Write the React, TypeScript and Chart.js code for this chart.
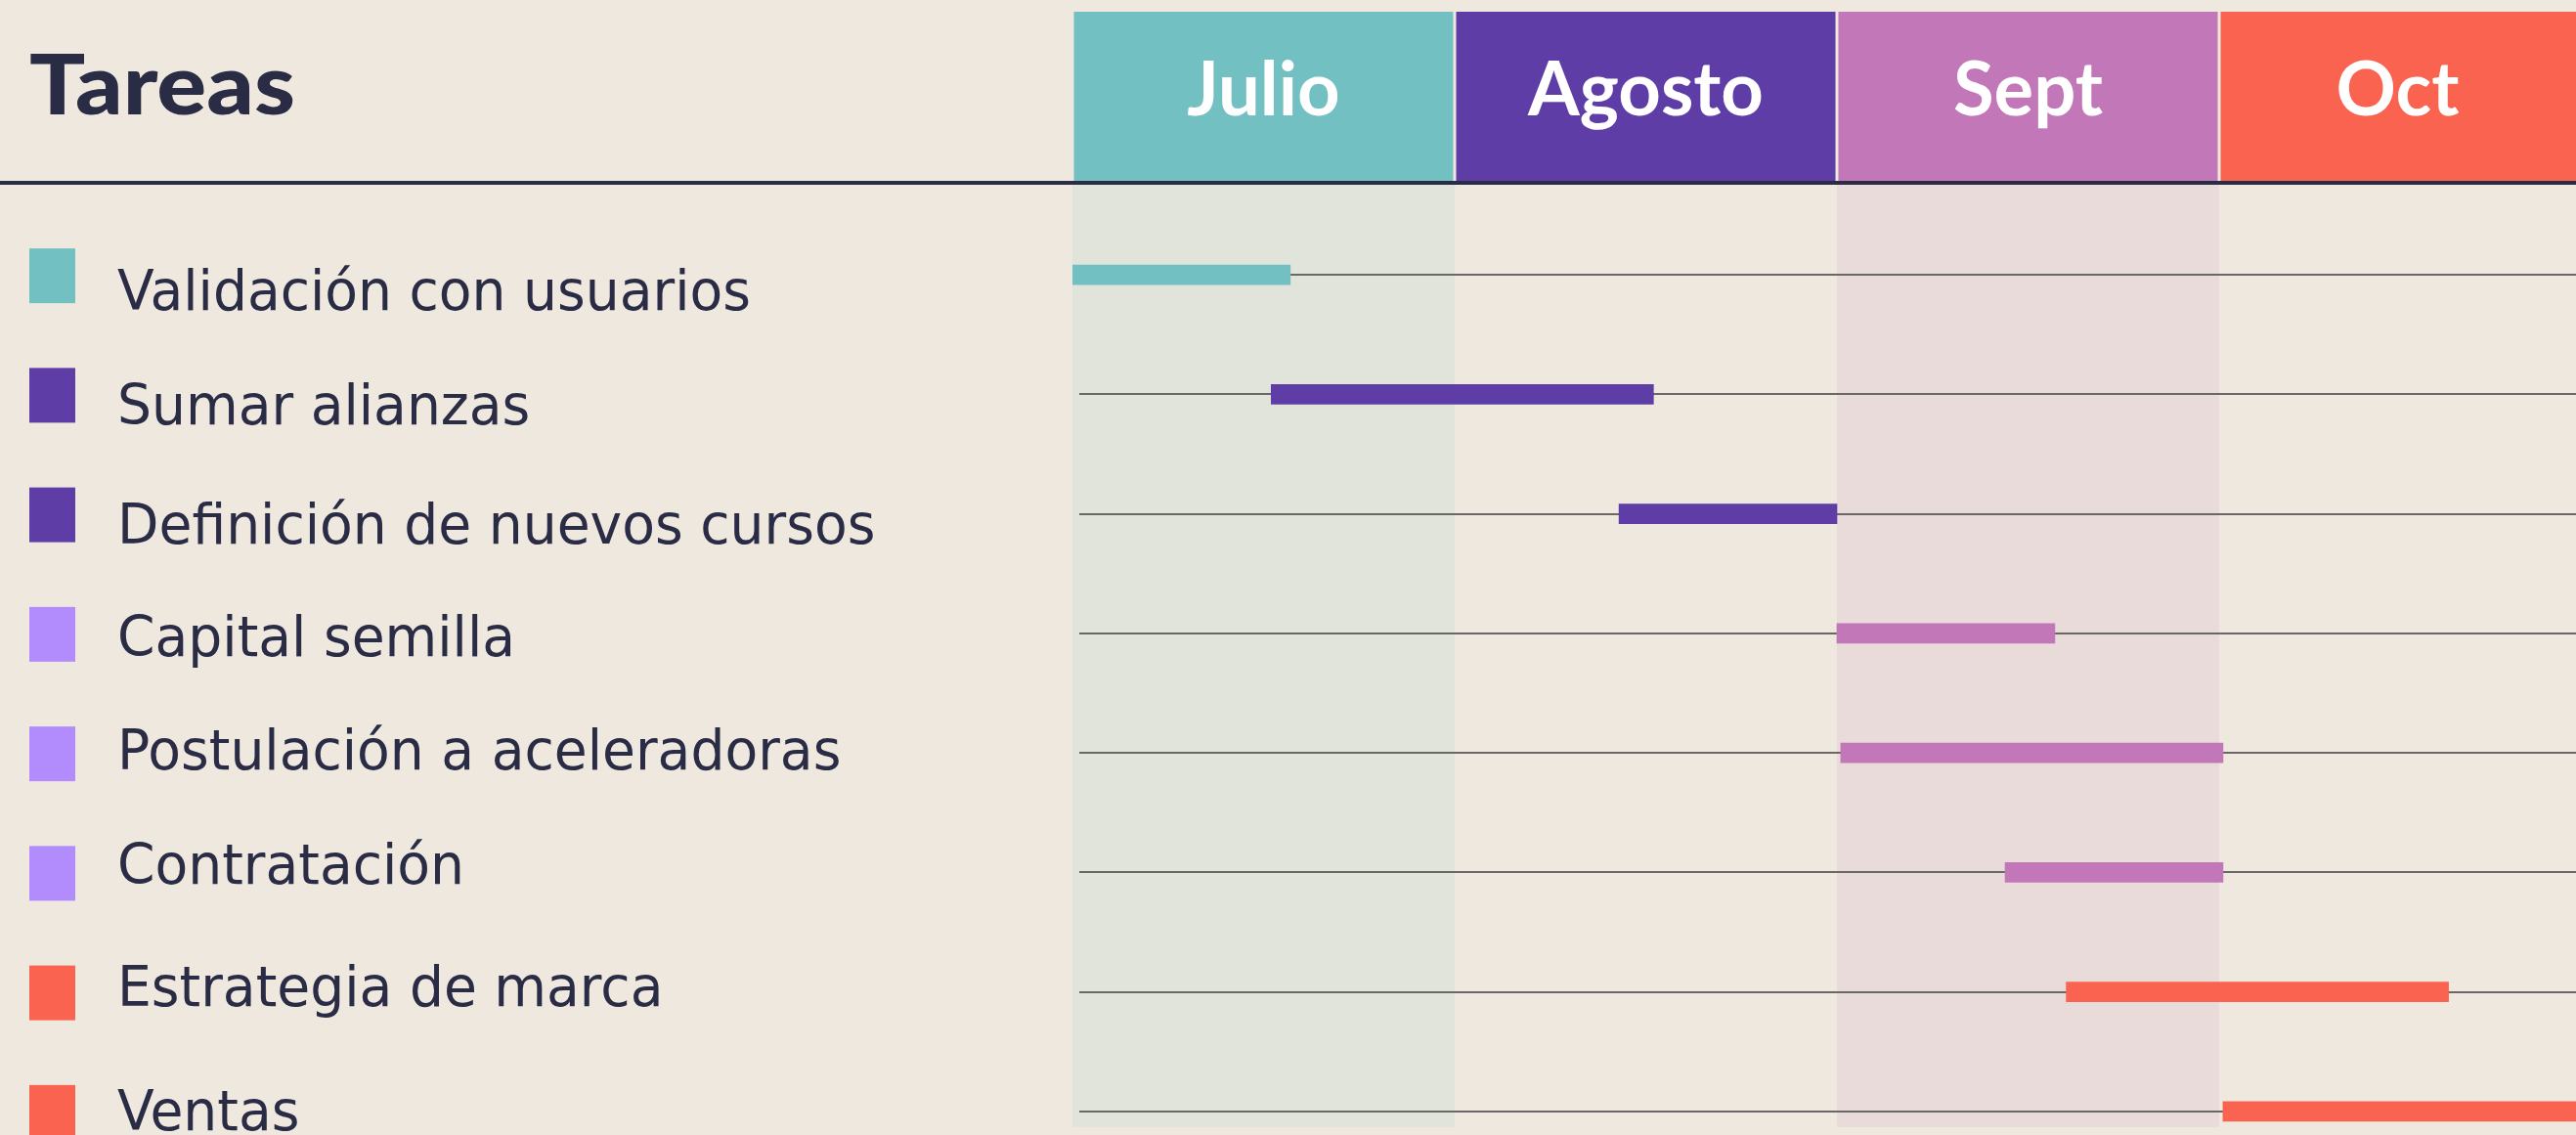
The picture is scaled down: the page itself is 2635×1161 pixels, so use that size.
import React, { useEffect, useRef } from "react";
import { Chart, registerables } from "chart.js";

Chart.register(...registerables);

// ---- data ----
const tasks = [
  "Validación con usuarios",
  "Sumar alianzas",
  "Definición de nuevos cursos",
  "Capital semilla",
  "Postulación a aceleradoras",
  "Contratación",
  "Estrategia de marca",
  "Ventas",
];
// positions in months, 0 = start of Julio, 1 = start of Agosto, ...
const starts = [0, 0.52, 1.43, 2.0, 2.01, 2.44, 2.6, 3.01];
const ends = [0.57, 1.52, 2.0, 2.57, 3.01, 3.01, 3.6, 4.2];
const barColors = ["#72c0c2", "#5e3ea6", "#5e3ea6", "#c277b8", "#c277b8", "#c277b8", "#f9634f", "#f9634f"];
const legendColors = ["#72c0c2", "#5e3ea6", "#5e3ea6", "#b28cfd", "#b28cfd", "#b28cfd", "#f9634f", "#f9634f"];
const months = ["Julio", "Agosto", "Sept", "Oct"];
const monthColors = ["#72c0c2", "#5e3ea6", "#c277b8", "#f9634f"];
const monthTints = ["rgba(114,192,194,0.10)", "", "rgba(194,119,184,0.11)", ""];
const title = "Tareas";

// layout: vertical nudge of each legend label (px) relative to its row
const labelNudge = [15, 10, 9, 2, -4, -9, -7, -2];

const INK = "#2a2b45";
const VISIBLE_W = 2635;

function scaledText(ctx: CanvasRenderingContext2D, text: string, x: number, y: number, sx: number, align: CanvasTextAlign) {
  ctx.save();
  ctx.translate(x, y);
  ctx.scale(sx, 1);
  ctx.textAlign = align;
  ctx.textBaseline = "alphabetic";
  ctx.fillText(text, 0, 0);
  ctx.restore();
}

const ganttDecor = {
  id: "ganttDecor",
  beforeDatasetsDraw(chart: any) {
    const { ctx, scales, chartArea } = chart;
    const x = scales.x;
    const y = scales.y;
    ctx.save();
    // column tints
    months.forEach((_m, i) => {
      const tint = monthTints[i];
      if (!tint) return;
      const l = x.getPixelForValue(i);
      const r = x.getPixelForValue(i + 1);
      ctx.fillStyle = tint;
      ctx.fillRect(l, 189, r - l, 1153 - 189);
    });
    // header boxes
    months.forEach((_m, i) => {
      const l = x.getPixelForValue(i) + 1.5;
      const r = x.getPixelForValue(i + 1) - 1.5;
      ctx.fillStyle = monthColors[i];
      ctx.fillRect(l, 12, r - l, 175);
    });
    // dark rule under header
    ctx.fillStyle = INK;
    ctx.fillRect(0, 185, chart.width, 4);
    // row lines
    ctx.strokeStyle = "#6b6766";
    ctx.lineWidth = 2;
    tasks.forEach((_t, i) => {
      const yy = Math.round(y.getPixelForValue(i));
      ctx.beginPath();
      ctx.moveTo(chartArea.left + 7, yy);
      ctx.lineTo(chart.width, yy);
      ctx.stroke();
    });
    ctx.restore();
  },
  afterDraw(chart: any) {
    const { ctx, scales } = chart;
    const x = scales.x;
    const y = scales.y;
    ctx.save();
    // title
    ctx.font = "900 86px Lato";
    ctx.fillStyle = INK;
    const tw = ctx.measureText(title).width;
    scaledText(ctx, title, 30, 117, 272 / tw, "left");
    // month labels
    ctx.font = "bold 76px Lato";
    ctx.fillStyle = "#ffffff";
    const mw = ctx.measureText(months[1]).width;
    const msx = 241 / mw;
    months.forEach((m, i) => {
      const l = x.getPixelForValue(i);
      const r = Math.min(x.getPixelForValue(i + 1), VISIBLE_W);
      scaledText(ctx, m, (l + r) / 2, 118, msx, "center");
    });
    // legend
    ctx.font = "57px 'DejaVu Sans'";
    const lw = ctx.measureText(tasks[0]).width;
    const lsx = 648 / lw;
    tasks.forEach((t, i) => {
      const cy = y.getPixelForValue(i);
      ctx.fillStyle = legendColors[i];
      ctx.fillRect(30, cy + 1 - 28, 47, 56);
      ctx.fillStyle = INK;
      scaledText(ctx, t, 120, cy + labelNudge[i] + 21, lsx, "left");
    });
    ctx.restore();
  },
};

export default function App() {
  const ref = useRef<HTMLCanvasElement>(null);
  useEffect(() => {
    const chart = new Chart(ref.current as HTMLCanvasElement, {
      type: "bar",
      data: {
        labels: tasks,
        datasets: [
          {
            data: tasks.map((_t, i) => [starts[i], ends[i]]) as any,
            backgroundColor: barColors,
            borderWidth: 0,
            borderSkipped: false,
            barThickness: 20,
          },
        ],
      },
      options: {
        indexAxis: "y",
        responsive: false,
        animation: false,
        layout: { padding: { left: 1097, right: 0, top: 220, bottom: 2 } },
        plugins: { legend: { display: false }, tooltip: { enabled: false } },
        scales: {
          x: { type: "linear", min: 0, max: 4, display: false },
          y: { type: "category", display: false },
        },
      },
      plugins: [ganttDecor],
    });
    return () => chart.destroy();
  }, []);
  return (
    <div
      style={{
        position: "absolute",
        left: 0,
        top: 0,
        width: VISIBLE_W,
        height: 1161,
        overflow: "hidden",
        background: "#eee8de",
      }}
    >
      <canvas ref={ref} width={2661} height={1200} style={{ display: "block", width: 2661, height: 1200 }} />
    </div>
  );
}
